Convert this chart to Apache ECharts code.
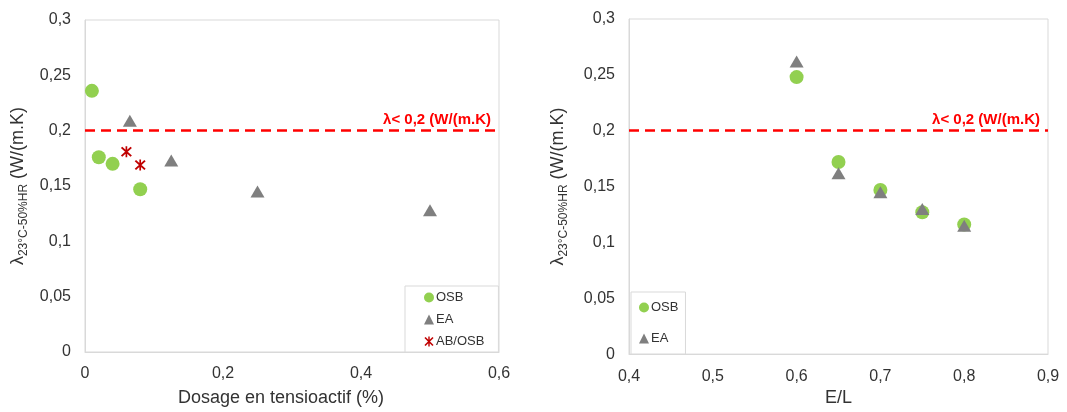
<!DOCTYPE html>
<html><head><meta charset="utf-8">
<script src="https://cdn.jsdelivr.net/npm/echarts@6/dist/echarts.min.js"></script>
<style>html,body{margin:0;padding:0;background:#fff}#c{width:1067px;height:412px}</style>
</head><body><div id="c"></div>
<script>
// ---- data ----
const dosageOSBx = [0.01, 0.02, 0.04, 0.08];
const dosageOSBy = [0.236, 0.176, 0.170, 0.147];
const dosageEAx = [0.065, 0.125, 0.25, 0.5];
const dosageEAy = [0.209, 0.173, 0.145, 0.128];
const dosageABx = [0.06, 0.08];
const dosageABy = [0.181, 0.169];
const elX = [0.6, 0.65, 0.7, 0.75, 0.8];
const elOSBy = [0.248, 0.172, 0.147, 0.127, 0.116];
const elEAy = [0.262, 0.162, 0.145, 0.130, 0.115];
const threshold = 0.2;
const thresholdLabel = 'λ< 0,2 (W/(m.K)';
const seriesNames = ['OSB', 'EA', 'AB/OSB'];
const xNameLeft = 'Dosage en tensioactif (%)';
const xNameRight = 'E/L';

const pairs = (xs, ys) => xs.map((x, i) => [x, ys[i]]);
const FONT = "'Liberation Sans', Arial, sans-serif";
const fmt = v => String(+(+v).toFixed(2)).replace('.', ',');
const GREEN = '#92D050', GREY = '#7F7F7F', DARKRED = '#C00000';
const ASTER = 'path://M4.3 0L5.7 0L5.7 10L4.3 10Z M1.566 0.434L9.566 8.434L8.434 9.566L0.434 1.566Z M9.566 1.566L1.566 9.566L0.434 8.434L8.434 0.434Z';

const yName = '{l|λ}{s|23°C-50%HR}{l| (W/(m.K)}';
const yNameStyle = {
  fontFamily: FONT, color: '#333',
  rich: {
    l: {fontSize: 18, fontFamily: FONT, color: '#333', lineHeight: 24, verticalAlign: 'middle'},
    s: {fontSize: 12, fontFamily: FONT, color: '#333', lineHeight: 24, verticalAlign: 'bottom'}
  }
};
const axisCommon = {
  axisLine: {show: true, lineStyle: {color: '#d9d9d9'}},
  axisTick: {show: false},
  splitLine: {show: false},
  axisLabel: {fontFamily: FONT, fontSize: 16, color: '#333', margin: 14, formatter: fmt}
};
const markLine = {
  silent: true, symbol: 'none', animation: false,
  lineStyle: {color: '#FF0000', type: [10, 6], width: 2.5},
  label: {show: true, position: 'insideEndTop', formatter: thresholdLabel, color: '#FF0000',
          fontWeight: 'bold', fontSize: 15, fontFamily: FONT, distance: [8, 3]},
  data: [{yAxis: threshold}]
};
const legendText = {fontFamily: FONT, fontSize: 13, color: '#333', padding: [0, 0, 0, -3]};

const chart = echarts.init(document.getElementById('c'));
chart.setOption({
  animation: false,
  grid: [
    {left: 85, right: 568, top: 20, bottom: 59, show: true, borderColor: '#d9d9d9', borderWidth: 1},
    {left: 629, right: 19, top: 19, bottom: 57, show: true, borderColor: '#d9d9d9', borderWidth: 1}
  ],
  xAxis: [
    Object.assign({}, axisCommon, {type: 'value', gridIndex: 0, min: 0, max: 0.6, interval: 0.2,
      name: xNameLeft, nameLocation: 'middle', nameGap: 37,
      nameTextStyle: {fontFamily: FONT, fontSize: 18, color: '#333', padding: [0, 22, 0, 0]}}),
    Object.assign({}, axisCommon, {type: 'value', gridIndex: 1, min: 0.4, max: 0.9, interval: 0.1,
      name: xNameRight, nameLocation: 'middle', nameGap: 34,
      nameTextStyle: {fontFamily: FONT, fontSize: 18, color: '#333'}})
  ],
  yAxis: [
    Object.assign({}, axisCommon, {type: 'value', gridIndex: 0, min: 0, max: 0.3, interval: 0.05,
      name: yName, nameLocation: 'middle', nameGap: 55, nameRotate: 90, nameTextStyle: yNameStyle}),
    Object.assign({}, axisCommon, {type: 'value', gridIndex: 1, min: 0, max: 0.3, interval: 0.05,
      name: yName, nameLocation: 'middle', nameGap: 59, nameRotate: 90, nameTextStyle: yNameStyle})
  ],
  legend: [
    {orient: 'vertical', left: 405, top: 286, itemWidth: 10, itemHeight: 10, itemGap: 9,
     padding: [5, 14, 4, 19], borderColor: '#d9d9d9', borderWidth: 1, backgroundColor: '#fff',
     borderRadius: 0, selectedMode: false, textStyle: legendText,
     data: [{name: seriesNames[0], icon: 'circle'}, {name: seriesNames[1], icon: 'triangle'},
            {name: seriesNames[2], icon: ASTER}]},
    {orient: 'vertical', left: 631, top: 292, itemWidth: 10, itemHeight: 10, itemGap: 18,
     padding: [9, 7, 9, 8], borderColor: '#d9d9d9', borderWidth: 1, backgroundColor: '#fff',
     borderRadius: 0, selectedMode: false, textStyle: legendText,
     data: [{name: seriesNames[0], icon: 'circle'}, {name: seriesNames[1], icon: 'triangle'}]}
  ],
  series: [
    {name: seriesNames[0], type: 'scatter', xAxisIndex: 0, yAxisIndex: 0, symbol: 'circle', symbolSize: 14,
     itemStyle: {color: GREEN, opacity: 1}, data: pairs(dosageOSBx, dosageOSBy), markLine: markLine},
    {name: seriesNames[1], type: 'scatter', xAxisIndex: 0, yAxisIndex: 0, symbol: 'triangle', symbolSize: [14, 12],
     itemStyle: {color: GREY, opacity: 1}, data: pairs(dosageEAx, dosageEAy)},
    {name: seriesNames[2], type: 'scatter', xAxisIndex: 0, yAxisIndex: 0, symbol: ASTER, symbolSize: 11,
     itemStyle: {color: DARKRED, opacity: 1}, data: pairs(dosageABx, dosageABy)},
    {name: seriesNames[0], type: 'scatter', xAxisIndex: 1, yAxisIndex: 1, symbol: 'circle', symbolSize: 14,
     itemStyle: {color: GREEN, opacity: 1}, data: pairs(elX, elOSBy), markLine: markLine},
    {name: seriesNames[1], type: 'scatter', xAxisIndex: 1, yAxisIndex: 1, symbol: 'triangle', symbolSize: [14, 12],
     itemStyle: {color: GREY, opacity: 1}, data: pairs(elX, elEAy)}
  ]
});
</script>
</body></html>
